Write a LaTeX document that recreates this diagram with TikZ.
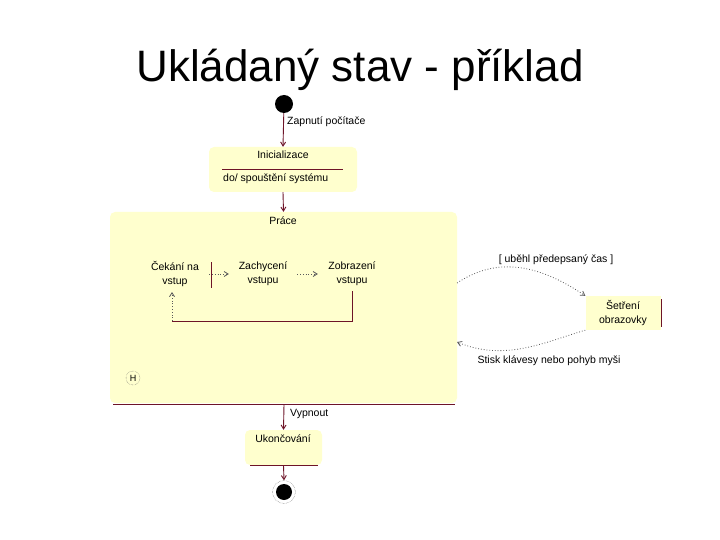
\documentclass[tikz,border=0pt]{standalone}
\usepackage{fontspec}
\setmainfont{Liberation Sans}
\usetikzlibrary{arrows.meta}
\definecolor{stfill}{RGB}{255,255,206}
\definecolor{wire}{RGB}{110,20,40}
\definecolor{dotc}{RGB}{90,90,90}
\begin{document}
\begin{tikzpicture}[x=1pt,y=-1pt,
  lbl/.style={font=\fontsize{10.5}{12}\selectfont,inner sep=0pt},
  statebox/.style={fill=stfill,rounded corners=5pt,inner sep=0pt},
  inner/.style={lbl,align=center,minimum width=68pt,minimum height=34pt,inner sep=0pt},
  wireline/.style={draw=wire,line width=0.9pt},
  trans/.style={wireline,-{Straight Barb[length=4pt,width=5pt]}},
  dottrans/.style={draw=dotc,dotted,line width=0.8pt,-{Straight Barb[length=4pt,width=5pt]}}]
\useasboundingbox[fill=white] (0,0) rectangle (720,540);

% title
\node[anchor=base,font=\fontsize{44}{50}\selectfont,inner sep=0pt] (title) at (360,82) {Ukládaný stav - příklad};

% start
\node[circle,fill=black,minimum size=18pt,inner sep=0pt] (start) at (284,104) {};

% Inicializace
\node[statebox,minimum width=148pt,minimum height=45pt] (init) at (283,169.5) {};
\node[lbl] (inittitle) at (283,155) {Inicializace};
\draw[wireline] (222,169) -- (343,169);
\node[lbl,anchor=west] (initdo) at (223,178.5) {do/ spouštění systému};

% Prace
\node[statebox,minimum width=347pt,minimum height=191pt] (prace) at (283.5,307.5) {};
\node[lbl] (pracetitle) at (283,220.5) {Práce};
\draw[wireline] (113,404.5) -- (455,404.5);

% inner states
\node[inner] (cek) at (175,274) {Čekání na\\[2pt]vstup};
\node[inner] (zach) at (263,274) {Zachycení\\[2pt]vstupu};
\node[inner] (zob) at (352,274) {Zobrazení\\[2pt]vstupu};
\draw[wireline] (211,262) -- (211,288);
\draw[dottrans] (cek.east) -- (zach.west);
\draw[dottrans] (zach.east) -- (zob.west);
\draw[wireline] (zob.south) -- (352,321) -- (172,321);
\draw[dottrans] (172,321) -- (172,292);

% history
\node[circle,draw=dotc,densely dotted,minimum size=14pt,inner sep=0pt,font=\fontsize{9}{10}\selectfont] (hist) at (133,378) {H};

% Setreni
\node[fill=stfill,minimum width=75pt,minimum height=34pt,align=center,lbl] (set) at (623,313) {Šetření\\[2pt]obrazovky};
\draw[wireline] (661,299) -- (661,327);

\coordinate (pa) at (457,283);
\coordinate (pb) at (457,342);
\draw[dottrans] (pa) .. controls (495,258) and (535,262) .. (set.north west);
\draw[dottrans] (set.south west) .. controls (545,342) and (505,362) .. (pb);
\node[lbl] (lab1) at (556,260) {[ uběhl předepsaný čas ]};
\node[lbl] (lab2) at (549,361) {Stisk klávesy nebo pohyb myši};

% Ukoncovani
\node[statebox,minimum width=77pt,minimum height=35pt] (ukon) at (283.5,447.5) {};
\node[lbl] (ukontitle) at (283,439) {Ukončování};
\draw[wireline] (250,465) -- (318,465);

% end
\node[circle,fill=black,minimum size=16pt,inner sep=0pt] (end) at (284,492) {};
\node[circle,draw=dotc,densely dotted,minimum size=23pt,inner sep=0pt] (endring) at (284,492) {};

% transitions
\draw[trans] (start) -- (init.north);
\node[lbl,anchor=west] (lab0) at (287,122) {Zapnutí počítače};
\draw[trans] (init.south) -- (prace.north);
\draw[trans] (284,404.5) -- (ukon.north);
\node[lbl,anchor=west] (lab3) at (290,414) {Vypnout};
\draw[trans] (ukon.south) -- (endring.north);
\end{tikzpicture}
\end{document}
